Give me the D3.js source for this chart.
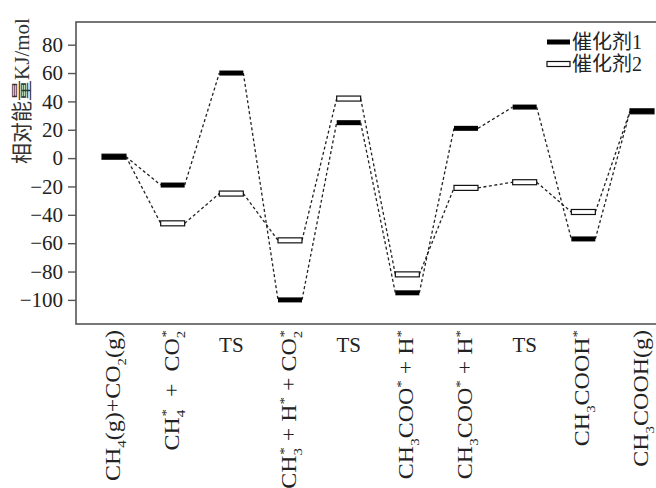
<!DOCTYPE html>
<html>
<head>
<meta charset="utf-8">
<script src="https://cdn.jsdelivr.net/npm/d3@7"></script>
<style>
  body { margin: 0; background: #fff; }
  text { white-space: pre; }
</style>
</head>
<body>
<script>
// reaction states ( _x = subscript, ^x = superscript )
var states = ["CH_4(g)+CO_2(g)", "CH_4^*  +  CO_2^*", "TS", "CH_3^* + H^* + CO_2^*", "TS",
              "CH_3COO^* + H^*", "CH_3COO^* + H^*", "TS", "CH_3COOH^*", "CH_3COOH(g)"];
var cat1 = [1, -19, 60, -100, 25, -95, 21, 36, -57, 33];
var cat2 = [1, -46, -25, -58, 42, -82, -21, -17, -38, 33];
var seriesNames = ["催化剂1", "催化剂2"];
var yTicks = [-100, -80, -60, -40, -20, 0, 20, 40, 60, 80];
var yTitle = "相对能量KJ/mol";

var width = 656,
    height = 488,
    mLeft = 76,
    mTop = 22,
    mBottom = 324,
    barW = 24,
    barH = 5,
    fs = 20;

var svg = d3.select("body").append("svg")
  .attr("width", width)
  .attr("height", height)
  .style("font-family", "'Liberation Serif', 'Noto Sans CJK SC', serif");

var x = d3.scalePoint()
  .domain(d3.range(states.length))
  .range([114, 642]);

var y = d3.scaleLinear()
  .domain([-117, 96])
  .range([mBottom, mTop]);

// frame (right side runs off the picture)
svg.append("rect")
  .attr("x", mLeft)
  .attr("y", mTop)
  .attr("width", 700)
  .attr("height", mBottom - mTop)
  .attr("fill", "none")
  .attr("stroke", "#555")
  .attr("stroke-width", 1.6);

// y axis
var yAxis = svg.append("g")
  .attr("transform", "translate(" + mLeft + ",0)")
  .call(d3.axisLeft(y).tickValues(yTicks).tickSize(8).tickPadding(5));
yAxis.select(".domain").remove();
yAxis.selectAll(".tick line").attr("stroke", "#555").attr("stroke-width", 1.4);
yAxis.selectAll(".tick text")
  .attr("fill", "#222")
  .style("font-family", "'Liberation Serif', serif")
  .style("font-size", "21px");

svg.append("text")
  .attr("transform", "translate(29,91) rotate(-90)")
  .attr("text-anchor", "middle")
  .attr("fill", "#333")
  .style("font-size", "21px")
  .text(yTitle);

// dashed connectors
function connectors(vals) {
  svg.append("g").selectAll("line")
    .data(d3.range(vals.length - 1))
    .enter().append("line")
    .attr("x1", function(i) { return x(i) + barW / 2; })
    .attr("y1", function(i) { return y(vals[i]); })
    .attr("x2", function(i) { return x(i + 1) - barW / 2; })
    .attr("y2", function(i) { return y(vals[i + 1]); })
    .attr("stroke", "#222")
    .attr("stroke-width", 1.3)
    .attr("stroke-dasharray", "3,2.5");
}
connectors(cat2);
connectors(cat1);

// energy levels: catalyst 2 hollow, catalyst 1 solid on top
svg.append("g").selectAll("rect")
  .data(cat2)
  .enter().append("rect")
  .attr("x", function(d, i) { return x(i) - barW / 2; })
  .attr("y", function(d) { return y(d) - barH / 2; })
  .attr("width", barW)
  .attr("height", barH)
  .attr("fill", "#fff")
  .attr("stroke", "#111")
  .attr("stroke-width", 1.2);

svg.append("g").selectAll("rect")
  .data(cat1)
  .enter().append("rect")
  .attr("x", function(d, i) { return x(i) - barW / 2; })
  .attr("y", function(d) { return y(d) - barH / 2; })
  .attr("width", barW)
  .attr("height", barH)
  .attr("fill", "#000");

// legend
var legend = svg.append("g");
seriesNames.forEach(function(name, k) {
  var ly = 42 + k * 22;
  legend.append("rect")
    .attr("x", 547).attr("y", ly - barH / 2)
    .attr("width", 23).attr("height", barH)
    .attr("fill", k === 0 ? "#000" : "#fff")
    .attr("stroke", k === 0 ? "none" : "#111")
    .attr("stroke-width", 1.2);
  legend.append("text")
    .attr("x", 572).attr("y", ly)
    .attr("dominant-baseline", "central")
    .attr("fill", "#222")
    .style("font-size", "20px")
    .text(name);
});

// chemical label with sub/superscripts
function richText(sel, str, size) {
  var tokens = [];
  for (var k = 0; k < str.length; k++) {
    var c = str[k];
    if (c === "_" || c === "^") {
      tokens.push({t: str[k + 1], m: c});
      k++;
    } else if (tokens.length && tokens[tokens.length - 1].m === "") {
      tokens[tokens.length - 1].t += c;
    } else {
      tokens.push({t: c, m: ""});
    }
  }
  var shift = 0, prev = "";
  tokens.forEach(function(tok) {
    var s = tok.m === "_" ? 0.3 * size : tok.m === "^" ? -0.42 * size : 0;
    var ts = sel.append("tspan")
      .text(tok.t)
      .attr("dy", s - shift)
      .style("font-size", (tok.m ? size * 0.62 : size) + "px");
    if (tok.m === "^" && prev === "_") ts.attr("dx", -size * 0.62 * 0.45);
    shift = s;
    prev = tok.m;
  });
}

var labels = svg.append("g").attr("fill", "#222");
states.forEach(function(s, i) {
  if (s === "TS") {
    labels.append("text")
      .attr("x", x(i))
      .attr("y", 352)
      .attr("text-anchor", "middle")
      .style("font-size", "21px")
      .text(s);
  } else {
    var t = labels.append("text")
      .attr("transform", "translate(" + (x(i) + 6) + ",330) rotate(-90) scale(1.2,1)")
      .attr("text-anchor", "end")
      .style("font-size", fs + "px");
    richText(t, s, fs);
  }
});
</script>
</body>
</html>
